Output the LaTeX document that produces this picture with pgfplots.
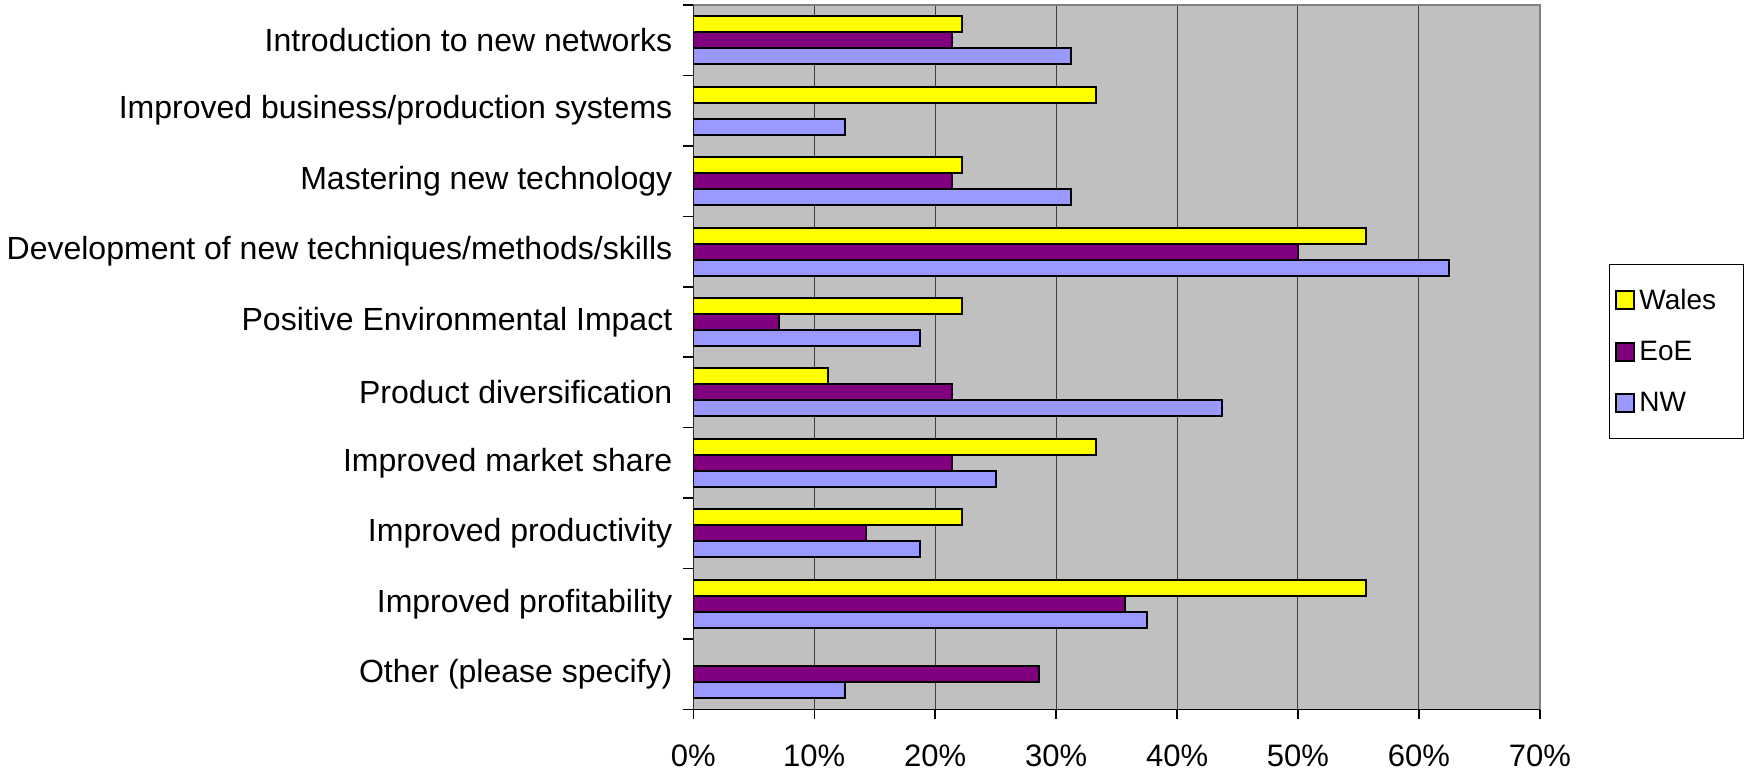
\documentclass[border=0pt]{standalone}
\usepackage{pgfplots}
\pgfplotsset{compat=1.18}
\usepackage{fontspec}
\setmainfont{Liberation Sans}
\definecolor{wyellow}{HTML}{FFFF00}
\definecolor{epurple}{HTML}{800080}
\definecolor{nwblue}{HTML}{9999FF}
\definecolor{bggray}{HTML}{C0C0C0}
\definecolor{bordergray}{HTML}{808080}
\begin{document}
\begin{tikzpicture}
\begin{axis}[
  scale only axis,
  width=423pt, height=352pt,
  xbar=0pt, bar width=8pt,
  xmin=0, xmax=70, ymin=-0.5, ymax=9.5,
  y dir=reverse,
  axis background/.style={fill=bggray},
  axis line style={draw=bordergray, line width=0.75pt},
  xtick={0,10,...,70},
  minor xtick={0,10,...,70},
  xticklabel={\pgfmathprintnumber{\tick}\%},
  /pgf/number format/assume math mode=true,
  xtick pos=bottom, ytick pos=left,
  tick align=outside,
  major tick length=0pt,
  minor tick length=5pt,
  tick style={black, line width=0.75pt},
  xmajorgrids,
  major x grid style={black!75, line width=0.5pt},
  ytick={0,1,2,3,4,5,6,7,8,9},
  minor ytick={-0.5,0.5,...,9.5},
  yticklabels={Introduction to new networks, Improved business/production systems, Mastering new technology, Development of new techniques/methods/skills, Positive Environmental Impact, Product diversification, Improved market share, Improved productivity, Improved profitability, Other (please specify)},
  yticklabel style={font=\fontsize{16}{19}\selectfont, xshift=-7pt},
  xticklabel style={font=\fontsize{15.5}{18}\selectfont, yshift=-14pt},
  reverse legend,
  legend cell align=left,
  legend image code/.code={\draw[#1, line width=1pt] (0pt,-4.5pt) rectangle (9pt,4.5pt);},
  legend style={at={(axis description cs:1.0816,0.632)}, anchor=north west,
    draw=black, line width=0.5pt, fill=white,
    font=\fontsize{14}{16}\selectfont, row sep=10.5pt, inner xsep=3pt, inner ysep=10pt},
]
\addplot[fill=nwblue, draw=black, line width=1pt] coordinates {(31.25,0) (12.5,1) (31.25,2) (62.5,3) (18.75,4) (43.75,5) (25.0,6) (18.75,7) (37.5,8) (12.5,9)};
\addlegendentry{\makebox[47pt][l]{NW}}
\addplot[fill=epurple, draw=black, line width=1pt] coordinates {(21.4,0) (21.4,2) (50.0,3) (7.1,4) (21.4,5) (21.4,6) (14.3,7) (35.7,8) (28.6,9)};
\addlegendentry{\makebox[47pt][l]{EoE}}
\addplot[fill=wyellow, draw=black, line width=1pt] coordinates {(22.2,0) (33.3,1) (22.2,2) (55.6,3) (22.2,4) (11.1,5) (33.3,6) (22.2,7) (55.6,8)};
\addlegendentry{\makebox[47pt][l]{Wales}}
\draw[black, line width=0.75pt] (axis description cs:0,1) -- (axis description cs:0,0) -- (axis description cs:1,0);
\end{axis}
\path ([yshift=2.5pt]current axis.north);
\path ([yshift=-2pt]current axis.south);
\end{tikzpicture}
\end{document}
